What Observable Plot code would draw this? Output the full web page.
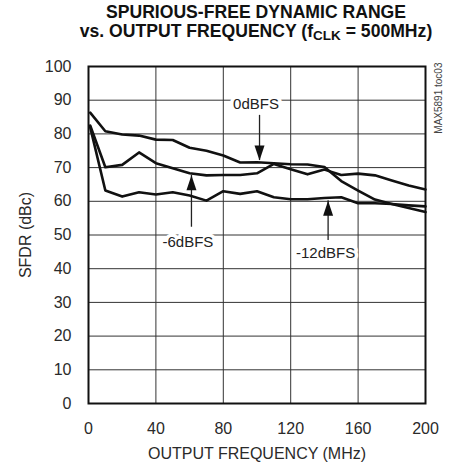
<!DOCTYPE html>
<html>
<head>
<meta charset="utf-8">
<script src="https://cdn.jsdelivr.net/npm/d3@7"></script>
<script src="https://cdn.jsdelivr.net/npm/@observablehq/plot@0.6"></script>
<style>
  html, body { margin: 0; padding: 0; background: #fff; }
  #wrap { width: 453px; position: relative; }
  #title { height: 52px; position: relative; font-family: "Liberation Sans", Arial, sans-serif; font-weight: bold; color: #111; }
  #title div { position: absolute; left: 56px; width: 400px; text-align: center; white-space: nowrap; font-size: 17.6px; }
  #t1 { top: 2px; }
  #t2 { top: 21px; }
  #title sub { font-size: 13.5px; vertical-align: -3px; line-height: 0; }
  svg { display: block; }
</style>
</head>
<body>
<div id="wrap">
  <div id="title">
    <div id="t1">SPURIOUS-FREE DYNAMIC RANGE</div>
    <div id="t2">vs. OUTPUT FREQUENCY (f<sub>CLK</sub> = 500MHz)</div>
  </div>
  <div id="chart"></div>
</div>
<script>
// Output frequency (MHz)
const freq = [1, 10, 20, 30, 40, 50, 60, 70, 80, 90, 100, 110, 120, 130, 140, 150, 160, 170, 180, 190, 200];
// SFDR (dBc) for each output level
const sfdr0dBFS  = [86.3, 80.8, 79.8, 79.5, 78.3, 78.2, 75.9, 75.0, 73.6, 71.5, 71.6, 71.3, 71.0, 70.9, 70.2, 66.0, 63.2, 60.5, 59.2, 58.0, 56.8];
const sfdr6dBFS  = [82.5, 70.1, 70.8, 74.5, 71.3, 69.8, 68.3, 67.7, 67.8, 67.8, 68.3, 71.1, 69.5, 68.0, 69.4, 67.8, 68.2, 67.7, 66.2, 64.7, 63.5];
const sfdr12dBFS = [82.0, 63.2, 61.4, 62.7, 62.0, 62.7, 61.7, 60.2, 63.0, 62.2, 63.0, 61.2, 60.6, 60.6, 61.0, 61.2, 59.4, 59.4, 59.2, 58.8, 58.5];
const seriesNames = ["0dBFS", "-6dBFS", "-12dBFS"];
const xTicks = [0, 40, 80, 120, 160, 200];
const yTicks = [0, 10, 20, 30, 40, 50, 60, 70, 80, 90, 100];
// Curve labels (data coordinates)
const labelText = ["0dBFS", "-6dBFS", "-12dBFS"];
const labelX = [99.4, 59, 140.7];
const labelY = [88.9, 47.9, 44.5];
// Arrows: x, shaft start, tip
const arrowX = [101.5, 61.1, 142.2];
const arrowFrom = [85.5, 52.3, 48.4];
const arrowTip = [72.1, 67.7, 60.2];

const seriesValues = [sfdr0dBFS, sfdr6dBFS, sfdr12dBFS];
const rows = seriesNames.flatMap((s, i) => freq.map((f, j) => ({series: s, f, v: seriesValues[i][j]})));
const labels = labelText.map((t, i) => ({t, x: labelX[i], y: labelY[i]}));
const arrows = arrowX.map((x, i) => ({x, y1: arrowFrom[i], y2: arrowTip[i], rot: arrowTip[i] < arrowFrom[i] ? 180 : 0}));

const arrowHead = {
  draw(ctx) {
    ctx.moveTo(0, 0);
    ctx.lineTo(-5, 15);
    ctx.lineTo(5, 15);
    ctx.closePath();
  }
};

const font = "'Liberation Sans', Arial, sans-serif";
const chart = Plot.plot({
  width: 453,
  height: 416,
  marginLeft: 88,
  marginRight: 28,
  marginTop: 14,
  marginBottom: 65,
  style: {fontFamily: font, fontSize: "16px", color: "#2a2a2a", background: "white"},
  x: {domain: [0, 200], ticks: xTicks, tickSize: 0, tickPadding: 19, label: "OUTPUT FREQUENCY (MHz)", labelAnchor: "center", labelArrow: "none", labelOffset: 55},
  y: {domain: [0, 100], ticks: yTicks, tickSize: 0, tickPadding: 17, label: "SFDR (dBc)", labelAnchor: "center", labelArrow: "none", labelOffset: 69},
  marks: [
    Plot.ruleX(xTicks.slice(1, -1), {stroke: "#333", strokeWidth: 1}),
    Plot.ruleY(yTicks.slice(1, -1), {stroke: "#333", strokeWidth: 1}),
    Plot.text(labels, {x: "x", y: "y", text: "t", fill: "#222", stroke: "white", strokeWidth: 7, fontSize: 15}),
    Plot.ruleX(arrows, {x: "x", y1: "y1", y2: "y2", stroke: "#222", strokeWidth: 1.3}),
    Plot.dot(arrows, {x: "x", y: "y2", symbol: arrowHead, rotate: "rot", fill: "#111", stroke: "none", r: 5}),
    Plot.line(rows, {x: "f", y: "v", z: "series", stroke: "#111", strokeWidth: 2.6, strokeLinejoin: "round", strokeLinecap: "round"}),
    Plot.frame({stroke: "#111", strokeWidth: 2}),
    Plot.text(["MAX5891 toc03"], {frameAnchor: "top-right", text: d => d, rotate: -90, textAnchor: "end", lineAnchor: "middle", dx: 13, dy: -4, fontSize: 10, fill: "#444"})
  ]
});
document.getElementById("chart").appendChild(chart);
</script>
</body>
</html>
